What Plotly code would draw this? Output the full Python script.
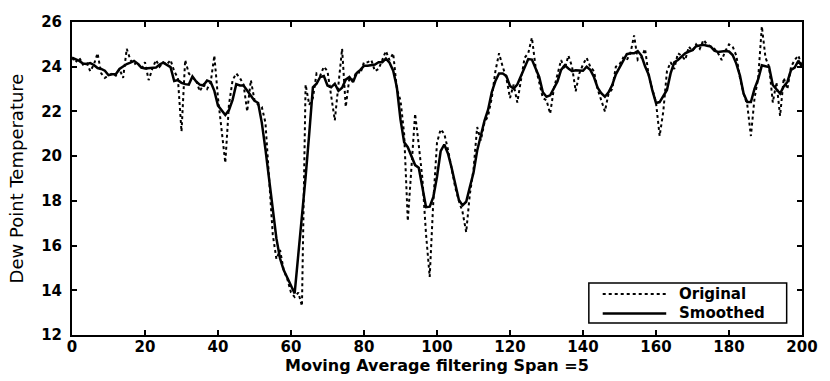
import numpy as np
import plotly.graph_objects as go

# Sample index 0..200 and the raw dew point readings
sample = list(range(201))
original = [
    24.4, 24.2, 24.4, 24.1, 24.2, 23.8, 24.1, 24.6, 23.7, 23.5,
    23.6, 23.7, 23.6, 23.9, 23.5, 24.8, 24.3, 24.1, 24.2, 23.9,
    24.2, 23.4, 23.9, 24.3, 24.0, 24.2, 24.1, 24.3, 23.8, 23.5,
    21.1, 24.3, 23.7, 23.5, 23.4, 22.9, 23.2, 23.0, 23.3, 24.5,
    22.6, 21.2, 19.7, 22.3, 23.4, 23.7, 23.5, 23.2, 22.0, 23.4,
    22.5, 22.3, 22.2, 21.5, 19.0, 16.5, 15.4, 15.8, 14.9, 14.5,
    13.9, 13.7, 13.9, 13.3, 23.2, 22.3, 22.6, 23.7, 23.6, 24.0,
    23.8, 22.8, 21.6, 23.2, 24.8, 22.2, 23.5, 23.4, 23.8, 23.7,
    24.2, 24.2, 24.3, 23.8, 23.9, 24.3, 24.7, 24.3, 24.6, 23.0,
    22.5, 21.0, 17.1, 19.5, 21.9, 20.5, 19.0, 16.5, 14.6, 18.0,
    20.6, 21.2, 21.0, 20.3, 19.5, 18.6, 18.0, 17.5, 16.6, 18.3,
    19.4, 21.3, 20.7, 21.5, 21.8, 22.6, 23.8, 24.6, 24.0, 23.5,
    22.6, 23.2, 22.4, 23.4, 24.4, 24.6, 25.3, 24.0, 23.3, 22.6,
    22.5, 21.9, 23.0, 23.6, 24.3, 23.9, 24.5, 24.0, 22.9, 23.7,
    24.1, 24.4, 24.0, 23.8, 23.0, 22.5, 22.0, 22.8, 23.0, 24.0,
    24.1, 24.4, 24.3, 24.6, 25.4, 24.3, 24.4, 24.8, 23.6, 23.0,
    22.4, 20.9, 22.0, 23.8, 24.2, 23.9, 24.6, 24.5, 24.3, 24.9,
    24.7, 25.0, 24.8, 25.2, 25.0, 24.9, 24.8, 24.6, 24.3, 24.7,
    25.0, 24.9, 24.5, 23.5, 22.8, 22.3, 20.9, 22.6, 23.5, 25.8,
    24.4, 24.0, 22.4, 23.3, 21.8, 23.5, 23.0, 24.0, 24.3, 24.5,
    24.0,
]

x_ticks = [0, 20, 40, 60, 80, 100, 120, 140, 160, 180, 200]
y_ticks = [12, 14, 16, 18, 20, 22, 24, 26]
series_names = ["Original", "Smoothed"]
x_title = "Moving Average filtering Span =5"
y_title = "Dew Point Temperature"
SPAN = 5


def moving_average(y, span):
    """Centred moving average; the window shrinks symmetrically near the ends."""
    y = np.asarray(y, dtype=float)
    n = len(y)
    half = span // 2
    out = np.empty(n)
    for i in range(n):
        h = min(half, i, n - 1 - i)
        out[i] = y[i - h:i + h + 1].mean()
    return out


smoothed = moving_average(original, SPAN)

FONT = "DejaVu Sans, Liberation Sans, sans-serif"
styles = [dict(color="black", width=2, dash="dot"),
          dict(color="black", width=2.5)]

fig = go.Figure()
fig.add_trace(go.Scatter(x=sample, y=original, mode="lines",
                         name=series_names[0], line=styles[0]))
fig.add_trace(go.Scatter(x=sample, y=smoothed, mode="lines",
                         name=series_names[1], line=styles[1]))

axis_common = dict(
    showline=True, linecolor="black", linewidth=2, mirror="ticks",
    ticks="inside", ticklen=5, tickwidth=1.5, tickcolor="black",
    showgrid=False, zeroline=False,
    tickfont=dict(family=FONT, size=15, color="black", weight="bold"),
)

# Boxed legend in the lower-right corner of the axes, with long line samples
box = dict(x0=0.708, x1=0.979, y0=0.038, y1=0.166)
rows_y = [0.131, 0.069]
sample_x = (0.727, 0.814)
text_x = 0.829

shapes = [dict(type="rect", xref="paper", yref="paper", **box,
               line=dict(color="black", width=1.5), fillcolor="white",
               layer="above")]
annotations = []
for name, style, ry in zip(series_names, styles, rows_y):
    shapes.append(dict(type="line", xref="paper", yref="paper",
                       x0=sample_x[0], x1=sample_x[1], y0=ry, y1=ry,
                       line=style, layer="above"))
    annotations.append(dict(text=name, xref="paper", yref="paper",
                            x=text_x, y=ry, xanchor="left", yanchor="middle",
                            showarrow=False,
                            font=dict(family=FONT, size=15, color="black",
                                      weight="bold")))

# Axis titles placed just outside the tick labels
annotations.append(dict(text=x_title, xref="paper", yref="paper",
                        x=0.5, y=-0.099, xanchor="center", yanchor="middle",
                        showarrow=False,
                        font=dict(family=FONT, size=16, color="black",
                                  weight="bold")))
annotations.append(dict(text=y_title, xref="paper", yref="paper",
                        x=-0.0755, y=0.5, xanchor="center", yanchor="middle",
                        textangle=-90, showarrow=False,
                        font=dict(family=FONT, size=18, color="black")))

fig.update_layout(
    width=830, height=381,
    margin=dict(l=72, r=26, t=22, b=46),
    paper_bgcolor="white", plot_bgcolor="white",
    font=dict(family=FONT, color="black"),
    showlegend=False,
    xaxis=dict(range=[0, 200], tickvals=x_ticks, ticklabelstandoff=-3,
               **axis_common),
    yaxis=dict(range=[12, 26], tickvals=y_ticks, ticklabelstandoff=5,
               **axis_common),
    shapes=shapes,
    annotations=annotations,
)

fig.write_html("out.html")
